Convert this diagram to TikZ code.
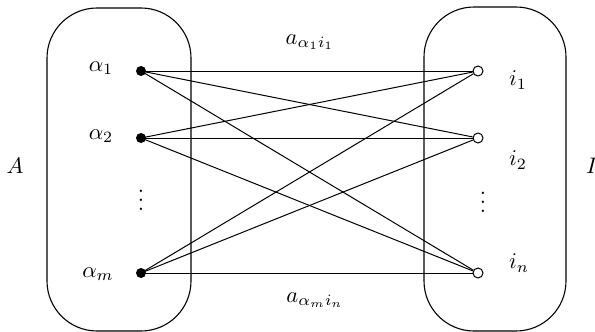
\documentclass[tikz,border=0pt]{standalone}
\begin{document}
\begin{tikzpicture}[x=1pt,y=-1pt,
  lbl/.style={inner sep=0pt, scale=2.25},
  setbox/.style={draw, line width=1.1pt, rounded corners=50pt},
  fulldot/.style={circle, fill=black, inner sep=0pt, minimum size=10pt},
  opendot/.style={circle, draw, line width=1pt, fill=white, inner sep=0pt, minimum size=10pt},
  edge/.style={line width=1pt}]
\useasboundingbox (0,0) rectangle (595,332);
\draw[setbox] (47,8) rectangle (191,331);
\draw[setbox] (424,7) rectangle (566,331);

\node[fulldot] (a1) at (141,71) {};
\node[fulldot] (a2) at (141,138) {};
\node[fulldot] (am) at (141,273) {};
\node[opendot] (i1) at (478,71) {};
\node[opendot] (i2) at (478,138) {};
\node[opendot] (in) at (478,273) {};

\foreach \s in {a1,a2,am}{
  \foreach \t in {i1,i2,in}{
    \draw[edge] (\s.center) -- (\t);
  }
}

\node[lbl] (la1) at (101,68) {$\alpha_1$};
\node[lbl] (la2) at (101,136) {$\alpha_2$};
\node[lbl] (lam) at (98,274) {$\alpha_m$};
\node[lbl] (lad) at (141,194) {$\vdots$};
\node[lbl] (li1) at (518,80) {$i_1$};
\node[lbl] (li2) at (518,160) {$i_2$};
\node[lbl] (lin) at (519,263) {$i_n$};
\node[lbl] (lid) at (483,196) {$\vdots$};
\node[lbl] (lA) at (15,166) {$A$};
\node[lbl] (lI) at (592,166) {$I$};
\node[lbl] (w1) at (310,42) {$a_{\alpha_1 i_1}$};
\node[lbl] (wm) at (315,300) {$a_{\alpha_m i_n}$};
\end{tikzpicture}
\end{document}
